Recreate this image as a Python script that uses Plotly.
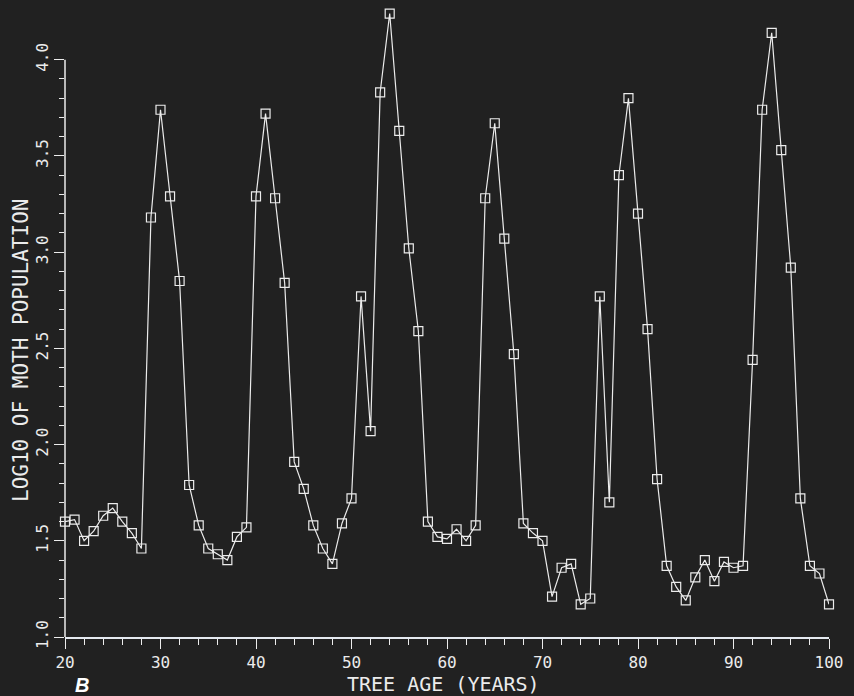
import plotly.graph_objects as go

# Data
tree_age = list(range(20, 101))
log10_moth = [
    1.60, 1.61, 1.50, 1.55, 1.63, 1.67, 1.60, 1.54, 1.46,   # 20-28
    3.18, 3.74, 3.29, 2.85, 1.79, 1.58, 1.46, 1.43, 1.40, 1.52, 1.57,  # 29-39
    3.29, 3.72, 3.28, 2.84, 1.91, 1.77, 1.58, 1.46, 1.38, 1.59,  # 40-49
    1.72, 2.77, 2.07, 3.83, 4.24, 3.63, 3.02, 2.59, 1.60, 1.52,  # 50-59
    1.51, 1.56, 1.50, 1.58, 3.28, 3.67, 3.07, 2.47, 1.59, 1.54,  # 60-69
    1.50, 1.21, 1.36, 1.38, 1.17, 1.20, 2.77, 1.70, 3.40, 3.80,  # 70-79
    3.20, 2.60, 1.82, 1.37, 1.26, 1.19, 1.31, 1.40, 1.29, 1.39,  # 80-89
    1.36, 1.37, 2.44, 3.74, 4.14, 3.53, 2.92, 1.72, 1.37, 1.33,  # 90-99
    1.17,  # 100
]

x_ticks = [20, 30, 40, 50, 60, 70, 80, 90, 100]
x_minor = [v for v in range(20, 101, 2) if v % 10 != 0]
y_ticks = [1.0, 1.5, 2.0, 2.5, 3.0, 3.5, 4.0]
y_ticktext = ["1.0", "1.5", "2.0", "2.5", "3.0", "3.5", "4.0"]
y_minor = [round(1.0 + i * 0.1, 1) for i in range(31) if i % 5 != 0]

BG = "#212121"
FG = "#ececec"
MONO = "DejaVu Sans Mono"

fig = go.Figure()
fig.add_trace(go.Scatter(
    x=tree_age, y=log10_moth, mode="lines+markers",
    line=dict(color=FG, width=1.2),
    marker=dict(symbol="square-open", size=9, color=FG, line=dict(width=1.2, color=FG)),
    cliponaxis=False, showlegend=False,
))

fig.update_layout(
    width=854, height=696,
    paper_bgcolor=BG, plot_bgcolor=BG,
    margin=dict(l=65, r=25, t=2, b=59),
    font=dict(family=MONO, color=FG),
    xaxis=dict(
        range=[20, 100], showgrid=False, zeroline=False,
        showline=True, linecolor="#e4e9f0", linewidth=1.5,
        ticks="outside", ticklen=10, tickwidth=1.2, tickcolor=FG,
        tickvals=x_ticks, ticktext=[str(v) for v in x_ticks],
        tickfont=dict(family=MONO, size=16, color=FG),
        minor=dict(tickvals=x_minor, ticks="outside", ticklen=6, tickwidth=1.2, tickcolor=FG, showgrid=False),
    ),
    yaxis=dict(
        range=[1.0, 4.3], showgrid=False, zeroline=False, showline=False,
        ticks="outside", ticklen=10, tickwidth=1.2, tickcolor=FG,
        tickvals=y_ticks, ticktext=y_ticktext, tickangle=-90,
        tickfont=dict(family=MONO, size=16, color=FG),
        minor=dict(tickvals=y_minor, ticks="outside", ticklen=5, tickwidth=1.2, tickcolor=FG, showgrid=False),
    ),
    shapes=[dict(type="line", xref="paper", x0=0, x1=0, yref="y", y0=1.0, y1=4.0,
                 line=dict(color=FG, width=1.5))],
    annotations=[
        dict(text="TREE AGE (YEARS)", xref="paper", yref="paper", x=0.495, y=0,
             xanchor="center", yanchor="middle", yshift=-47, showarrow=False,
             font=dict(family=MONO, size=20, color=FG)),
        dict(text="LOG10 OF MOTH POPULATION", xref="paper", yref="paper", x=0, y=0.4504,
             xanchor="center", yanchor="middle", xshift=-44, textangle=-90, showarrow=False,
             font=dict(family=MONO, size=21, color=FG)),
        dict(text="<b><i>B</i></b>", xref="paper", yref="paper", x=0, y=0,
             xanchor="center", yanchor="middle", xshift=17, yshift=-48, showarrow=False,
             font=dict(family="Liberation Sans", size=20, color="#ffffff")),
    ],
)

fig.write_html(
    "out.html",
    config={"displayModeBar": False},
    post_script="document.body.style.margin='0';document.body.style.background='#212121';",
)
